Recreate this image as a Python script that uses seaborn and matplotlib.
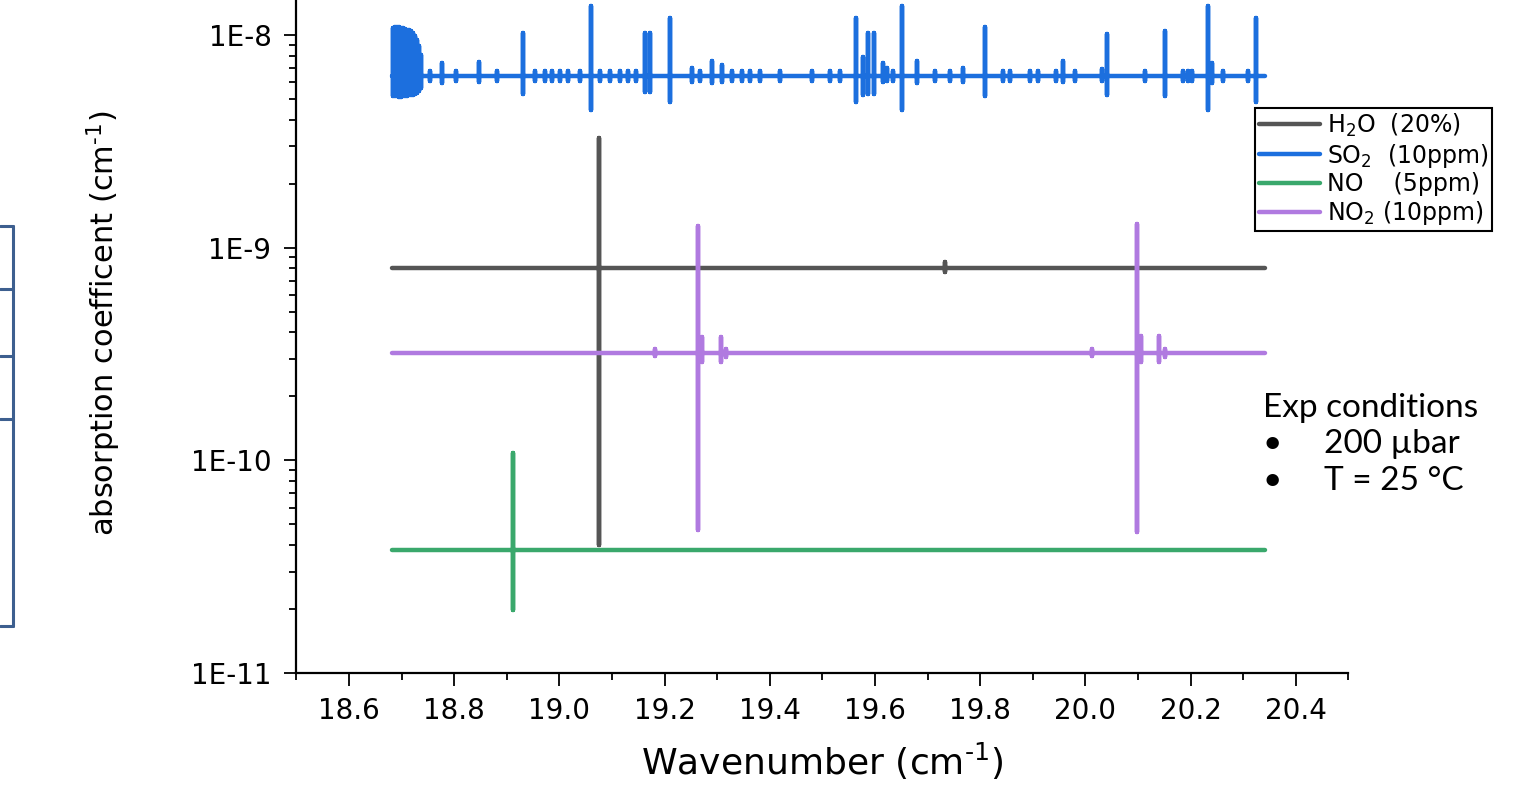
import numpy as np
import pandas as pd
import matplotlib
matplotlib.use("Agg")
import matplotlib.pyplot as plt
import matplotlib.ticker as mticker
from matplotlib.lines import Line2D
import seaborn as sns

sns.set_style("ticks")
plt.rcParams['font.family'] = ['DejaVu Sans']
plt.rcParams['mathtext.default'] = 'regular'
for key in ['text.color', 'axes.labelcolor', 'xtick.color', 'ytick.color', 'axes.edgecolor']:
    plt.rcParams[key] = 'black'

# --- data ---
wn_start, wn_end = 18.682, 20.341   # spectral window of all traces (cm-1)

gas_labels = ["H$_2$O  (20%)", "SO$_2$  (10ppm)", "NO    (5ppm)", "NO$_2$ (10ppm)"]
gas_colors = ["#555555", "#1c6fde", "#3aa86c", "#b07ae0"]

# H2O
h2o_base = 8.02e-10
h2o_pos = [19.075, 19.733]
h2o_top = [3.28e-9, 8.56e-10]
h2o_bot = [4.0e-11, 7.68e-10]

# SO2 : dense band at the low end
so2_base = 6.41e-9
so2_band_pos = [18.684, 18.687, 18.691, 18.695, 18.699, 18.703, 18.706, 18.710,
                18.714, 18.718, 18.722, 18.725, 18.729, 18.733, 18.737]
so2_band_top = [1.079e-8, 1.090e-8, 1.090e-8, 1.090e-8, 1.079e-8, 1.079e-8, 1.067e-8, 1.056e-8,
                1.056e-8, 1.044e-8, 1.022e-8, 9.89e-9, 9.47e-9, 8.88e-9, 8.05e-9]
so2_band_bot = [5.17e-9, 5.17e-9, 5.17e-9, 5.11e-9, 5.11e-9, 5.17e-9, 5.17e-9, 5.17e-9,
                5.22e-9, 5.22e-9, 5.22e-9, 5.28e-9, 5.34e-9, 5.45e-9, 5.63e-9]
# SO2 : isolated lines
so2_pos = [18.777, 18.847, 18.931, 19.060, 19.163, 19.172, 19.210, 19.252, 19.290, 19.309,
           19.564, 19.577, 19.587, 19.598, 19.615, 19.623, 19.651, 19.680, 19.767, 19.809,
           19.957, 20.032, 20.041, 20.151, 20.233, 20.241, 20.324]
so2_top = [7.38e-9, 7.46e-9, 1.02e-8, 1.37e-8, 1.02e-8, 1.02e-8, 1.20e-8, 7.0e-9, 7.54e-9, 7.2e-9,
           1.20e-8, 7.88e-9, 1.02e-8, 1.02e-8, 7.38e-9, 7.0e-9, 1.37e-8, 7.54e-9, 7.0e-9, 1.09e-8,
           7.54e-9, 6.9e-9, 1.01e-8, 1.04e-8, 1.37e-8, 7.38e-9, 1.20e-8]
so2_bot = [5.95e-9, 6.01e-9, 5.28e-9, 4.44e-9, 5.40e-9, 5.40e-9, 4.84e-9, 6.0e-9, 5.95e-9, 6.0e-9,
           4.84e-9, 5.22e-9, 5.28e-9, 5.28e-9, 6.01e-9, 6.1e-9, 4.44e-9, 5.95e-9, 6.01e-9, 5.17e-9,
           6.01e-9, 6.1e-9, 5.22e-9, 5.17e-9, 4.44e-9, 5.95e-9, 4.84e-9]
# SO2 : weak lines (small dots on the baseline)
so2_weak_pos = [18.754, 18.803, 18.881, 18.954, 18.973, 18.986, 19.001, 19.016, 19.039, 19.077,
                19.096, 19.115, 19.130, 19.146, 19.267, 19.328, 19.347, 19.362, 19.381, 19.419,
                19.480, 19.514, 19.533, 19.634, 19.714, 19.743, 19.843, 19.857, 19.895, 19.910,
                19.944, 19.980, 20.113, 20.186, 20.195, 20.203, 20.262, 20.309]
so2_weak_top = 6.75e-9
so2_weak_bot = 6.1e-9

# NO
no_base = 3.79e-11
no_pos = [18.912]
no_top = [1.083e-10]
no_bot = [1.98e-11]

# NO2
no2_base = 3.196e-10
no2_pos = [19.182, 19.264, 19.271, 19.307, 19.317, 20.013, 20.098, 20.106, 20.140, 20.151]
no2_top = [3.35e-10, 1.264e-9, 3.80e-10, 3.80e-10, 3.35e-10, 3.32e-10, 1.292e-9, 3.85e-10, 3.85e-10, 3.35e-10]
no2_bot = [3.10e-10, 4.70e-11, 2.90e-10, 2.90e-10, 3.05e-10, 3.10e-10, 4.60e-11, 2.90e-10, 2.90e-10, 3.05e-10]


def trace(base, pos, top, bot):
    # baseline with a vertical stick at each line position
    order = np.argsort(pos)
    xs, ys = [wn_start], [base]
    for i in order:
        xs += [pos[i]] * 4
        ys += [base, top[i], bot[i], base]
    xs.append(wn_end)
    ys.append(base)
    return xs, ys


so2_all_pos = so2_band_pos + so2_pos + so2_weak_pos
so2_all_top = so2_band_top + so2_top + [so2_weak_top] * len(so2_weak_pos)
so2_all_bot = so2_band_bot + so2_bot + [so2_weak_bot] * len(so2_weak_pos)

traces = [
    trace(h2o_base, h2o_pos, h2o_top, h2o_bot),
    trace(so2_base, so2_all_pos, so2_all_top, so2_all_bot),
    trace(no_base, no_pos, no_top, no_bot),
    trace(no2_base, no2_pos, no2_top, no2_bot),
]

frames = []
for label, (xs, ys) in zip(gas_labels, traces):
    frames.append(pd.DataFrame({'wn': xs, 'alpha': ys, 'gas': label}))
df = pd.concat(frames, ignore_index=True)

# --- plot ---
W, H = 1526, 802
fig = plt.figure(figsize=(W / 100, H / 100), dpi=100)
ax = fig.add_axes([296.4 / W, 1 - 673 / H, 1052 / W, 673 / H])

sns.lineplot(data=df, x='wn', y='alpha', hue='gas', hue_order=gas_labels,
             palette=dict(zip(gas_labels, gas_colors)), estimator=None, sort=False,
             lw=3.2, ax=ax)

ax.set_yscale('log')
ax.set_xlim(18.5, 20.5)
ax.set_ylim(1e-11, 1.46e-8)

ax.xaxis.set_major_locator(mticker.MultipleLocator(0.2))
ax.xaxis.set_minor_locator(mticker.MultipleLocator(0.1))
ax.xaxis.set_major_formatter(mticker.FormatStrFormatter('%.1f'))
ax.yaxis.set_major_locator(mticker.LogLocator(base=10, numticks=10))
ax.yaxis.set_minor_locator(mticker.LogLocator(base=10, subs=np.arange(2, 10), numticks=20))
ax.yaxis.set_minor_formatter(mticker.NullFormatter())
ax.yaxis.set_major_formatter(mticker.FuncFormatter(lambda v, _: f"1E{int(round(np.log10(v)))}"))

ax.tick_params(which='major', direction='out', length=9, width=1.3, labelsize=20)
ax.tick_params(which='minor', direction='out', length=5, width=1.3)
ax.tick_params(axis='y', which='major', pad=9)
ax.tick_params(axis='x', which='major', pad=8)
sns.despine(ax=ax)
for side in ['left', 'bottom']:
    ax.spines[side].set_linewidth(1.6)

ax.set_xlabel(r'Wavenumber (cm$^{\text{-1}}$)', fontsize=26, labelpad=12)
ax.set_ylabel(r'absorption coefficent (cm$^{\text{-1}}$)', fontsize=22, labelpad=34)
ax.yaxis.set_label_coords(-0.165, 0.52)

handles, labels = ax.get_legend_handles_labels()
ax.get_legend().remove()
leg = fig.legend(handles, labels, loc='upper left', bbox_to_anchor=(1255 / W, 1 - 108 / H),
                 bbox_transform=fig.transFigure, borderaxespad=0, fontsize=17,
                 frameon=True, fancybox=False, edgecolor='black', framealpha=1,
                 handlelength=2.6, handletextpad=0.3, borderpad=0.15, labelspacing=0.12)
leg.get_frame().set_linewidth(1.5)
for h in leg.legend_handles:
    h.set_linewidth(3.2)

# experimental conditions note
note_font = ['Lato', 'DejaVu Sans']
fig.text(1263 / W, 1 - 417 / H, 'Exp conditions', fontsize=24, family=note_font, va='baseline')
fig.text(1263 / W, 1 - 453 / H, '\u2022', fontsize=24, family=note_font, va='baseline')
fig.text(1324 / W, 1 - 453 / H, '200 \u00b5bar', fontsize=24, family=note_font, va='baseline')
fig.text(1263 / W, 1 - 490 / H, '\u2022', fontsize=24, family=note_font, va='baseline')
fig.text(1324 / W, 1 - 490 / H, 'T = 25 \u00b0C', fontsize=24, family=note_font, va='baseline')

# partial box visible at the left edge of the slide
box_color = '#3d5f8f'
fig.add_artist(Line2D([13 / W, 13 / W], [1 - 226 / H, 1 - 626 / H], transform=fig.transFigure,
                      color=box_color, lw=2.2))
for yy in [226, 289, 356, 419, 626]:
    fig.add_artist(Line2D([0, 13 / W], [1 - yy / H, 1 - yy / H], transform=fig.transFigure,
                          color=box_color, lw=2.2))

fig.savefig('out.png', dpi=100)
